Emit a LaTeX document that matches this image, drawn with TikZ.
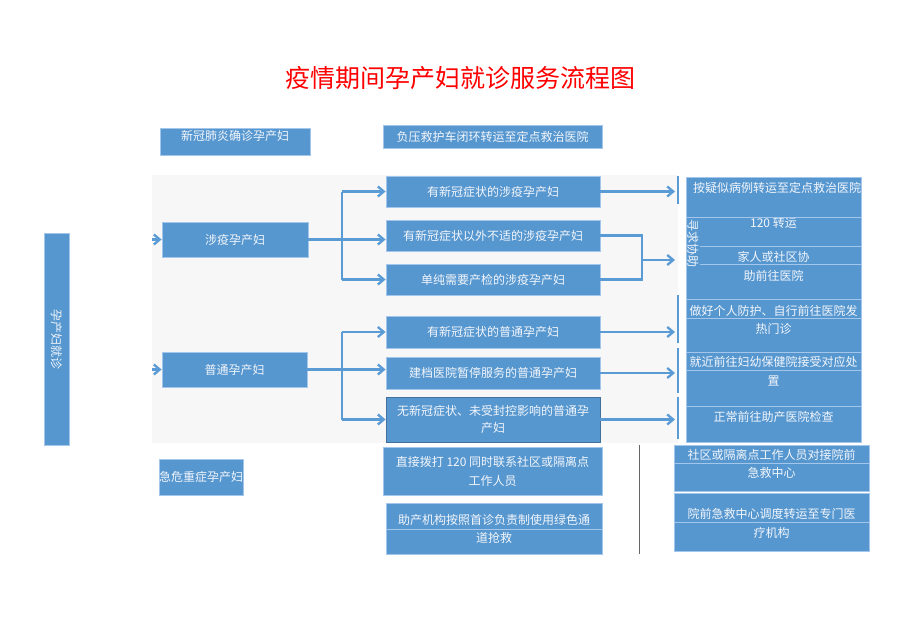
\documentclass[tikz,border=0pt]{standalone}
\usepackage{fontspec}
\usepackage{tikz}
\usetikzlibrary{arrows.meta}
\newfontfamily\cjk{Noto Sans CJK SC}
\definecolor{boxblue}{HTML}{5797D0}
\definecolor{boxedge}{HTML}{A4C6EA}
\definecolor{boxdark}{HTML}{41719C}
\definecolor{boxtext}{HTML}{F2F6FB}
\definecolor{flowblue}{HTML}{5B9BD5}
\definecolor{bggray}{HTML}{F7F7F7}
\colorlet{sepgray}{gray!80!black}

\begin{document}
\begin{tikzpicture}[x=1pt, y=-1pt,
    box/.style={fill=boxblue, draw=boxedge, line width=0.8pt, text=boxtext, inner sep=0pt,
      align=center, font=\cjk\fontsize{12}{18}\selectfont},
    toptext/.style={text height=10pt, text depth=12.2pt},
    txt/.style={text=boxtext, inner sep=0pt, font=\cjk\fontsize{12}{18}\selectfont},
    flow/.style={draw=flowblue, line width=2.3pt},
    arr/.style={flow, -{Straight Barb[length=6pt, width=10pt]}},
    divider/.style={draw=boxedge, line width=0.6pt}]
    \useasboundingbox (0,0) rectangle (920,623);
    % coordinates
    \coordinate (in-x) at (152,0);
    \coordinate (split-x) at (342,0);
    \coordinate (merge-x) at (642,0);
    \coordinate (end-x) at (675,0);
    \coordinate (merge) at (642,260);
    % shaded area
    \fill[bggray] (152,175) rectangle (678,443);
    % title
    \node[text=red, font=\cjk\fontsize{25}{30}\selectfont] (title) at (460,78) {疫情期间孕产妇就诊服务流程图};
    % left column
    \node[box, rotate=-90, minimum width=212, minimum height=25] (visit) at (56.5,339) {孕产妇就诊};
    \node[box, toptext, minimum width=150, minimum height=27] (confirmed) at (235,141.5) {新冠肺炎确诊孕产妇};
    \node[box, minimum width=146, minimum height=35] (exposed) at (235,239.5) {涉疫孕产妇};
    \node[box, minimum width=145, minimum height=35] (ordinary) at (234.5,369.5) {普通孕产妇};
    \node[box, minimum width=82, minimum height=36] (critical) at (201,477) {急危重症孕产妇};
    % middle column
    \node[box, minimum width=219, minimum height=23] (ambulance) at (492.5,136.5) {负压救护车闭环转运至定点救治医院};
    \node[box, minimum width=214, minimum height=31] (exp-sym) at (493,191.5) {有新冠症状的涉疫孕产妇};
    \node[box, minimum width=214, minimum height=31] (exp-other) at (493,235.5) {有新冠症状以外不适的涉疫孕产妇};
    \node[box, minimum width=214, minimum height=31] (exp-check) at (493,279.5) {单纯需要产检的涉疫孕产妇};
    \node[box, minimum width=214, minimum height=32] (ord-sym) at (493,332) {有新冠症状的普通孕产妇};
    \node[box, minimum width=214, minimum height=32] (ord-closed) at (493,373) {建档医院暂停服务的普通孕产妇};
    \node[box, draw=boxdark, font=\cjk\fontsize{12}{17}\selectfont, minimum width=214, minimum height=45] (ord-normal) at (493,419.5) {无新冠症状、未受封控影响的普通孕\\产妇};
    \node[box, font=\cjk\fontsize{12}{19}\selectfont, minimum width=219, minimum height=48] (call) at (492.5,471) {直接拨打 120 同时联系社区或隔离点\\工作人员};
    \node[box, minimum width=216, minimum height=51] (green) at (494,528.5) {助产机构按照首诊负责制使用绿色通\\道抢救};
    % right column
    \node[box, minimum width=175, minimum height=122] (suspect) at (773.5,238) {};
    \node[txt] (suspect-a) at (777,188) {按疑似病例转运至定点救治医院};
    \node[txt] (suspect-b) at (773.5,223) {120 转运};
    \node[txt] (suspect-c) at (773.5,257) {家人或社区协};
    \node[txt] (suspect-d) at (773.5,276) {助前往医院};
    \node[txt, rotate=-90] (assist) at (693,243) {寻求协助};
    \draw[divider] (686,217) -- (861,217);
    \draw[divider] (700,246) -- (861,246);
    \draw[divider] (700,264) -- (861,264);
    \node[box, minimum width=175, minimum height=143] (home) at (773.5,370.5) {};
    \node[txt] (home-a) at (773.5,311) {做好个人防护、自行前往医院发};
    \node[txt] (home-b) at (773.5,329) {热门诊};
    \node[txt] (home-c) at (773.5,362) {就近前往妇幼保健院接受对应处};
    \node[txt] (home-d) at (773.5,381) {置};
    \node[txt] (home-e) at (773.5,417) {正常前往助产医院检查};
    \draw[divider] (686,318) -- (861,318);
    \draw[divider] (686,352) -- (861,352);
    \draw[divider] (686,370) -- (861,370);
    \draw[divider] (686,406) -- (861,406);
    \node[box, minimum width=195, minimum height=46] (community) at (771.5,468) {};
    \node[txt] (community-a) at (771.5,455) {社区或隔离点工作人员对接院前};
    \node[txt] (community-b) at (771.5,473) {急救中心};
    \draw[divider] (674,463) -- (869,463);
    \node[box, minimum width=195, minimum height=58] (dispatch) at (771.5,522) {};
    \node[txt] (dispatch-a) at (771.5,514) {院前急救中心调度转运至专门医};
    \node[txt] (dispatch-b) at (771.5,533) {疗机构};
    \draw[divider] (674,522) -- (869,522);
    \draw[divider] (386,529) -- (602,529);
    % incoming arrows
    \draw[arr] (in-x |- exposed) -- (exposed.west);
    \draw[arr] (in-x |- ordinary) -- (ordinary.west);
    % exposed -> three groups
    \draw[flow] (exposed.east) -- (exposed -| split-x);
    \draw[flow] (split-x |- exp-sym) -- (split-x |- exp-check);
    \draw[arr] (split-x |- exp-sym) -- (exp-sym.west);
    \draw[arr] (exposed -| split-x) -- (exposed -| exp-other.west);
    \draw[arr] (split-x |- exp-check) -- (exp-check.west);
    % ordinary -> three groups
    \draw[flow] (ordinary.east) -- (ordinary -| split-x);
    \draw[flow] (split-x |- ord-sym) -- (split-x |- ord-normal);
    \draw[arr] (split-x |- ord-sym) -- (ord-sym.west);
    \draw[arr] (ordinary -| split-x) -- (ordinary -| ord-closed.west);
    \draw[arr] (split-x |- ord-normal) -- (ord-normal.west);
    % groups -> right column
    \draw[arr] (exp-sym.east) -- (exp-sym -| end-x);
    \draw[flow] (exp-other.east) -- (exp-other -| merge-x) -- (exp-check -| merge-x) -- (exp-check.east);
    \draw[arr] (merge) -- (merge -| end-x);
    \draw[arr] (ord-sym.east) -- (ord-sym -| end-x);
    \draw[arr] (ord-closed.east) -- (ord-closed -| end-x);
    \draw[arr] (ord-normal.east) -- (ord-normal -| end-x);
    % bars
    \draw[flow] (678,176) -- (678,204);
    \draw[flow] (678,295) -- (678,343);
    \draw[flow] (678,348) -- (678,393);
    \draw[flow] (678,397) -- (678,439);
    % separator
    \draw[sepgray, line width=0.8pt] (639,445) -- (639,554);
\end{tikzpicture}
\end{document}
